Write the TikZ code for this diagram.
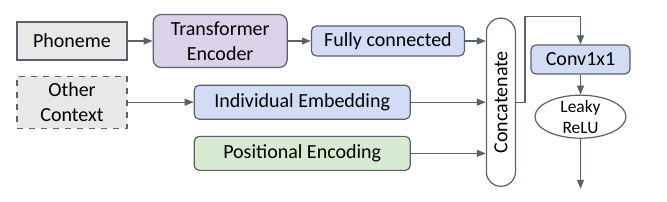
\documentclass[tikz,border=0pt]{standalone}
\usepackage{fontspec}
\setmainfont{Carlito}
\usepackage{graphicx}
\usepackage{tikz}
\usetikzlibrary{positioning}
\usetikzlibrary{shapes.geometric}
\usetikzlibrary{arrows.meta}

\definecolor{edgegrey}{HTML}{5A606C}
\definecolor{inputgrey}{HTML}{E8E8E8}
\definecolor{encpurple}{HTML}{D9D2E9}
\definecolor{layerblue}{HTML}{D2DCF5}
\definecolor{posgreen}{HTML}{D9EAD3}

\begin{document}
\begin{tikzpicture}[x=0.5pt, y=-0.5pt, font=\fontsize{10}{12.5}\selectfont,
    box/.style={draw=edgegrey, line width=0.6pt, inner sep=0pt, align=center},
    layer/.style={box, fill=layerblue, rounded corners=2.5pt, minimum height=15pt},
    arr/.style={draw=edgegrey, line width=0.6pt, -{Triangle[length=4.5pt,width=3.5pt]}}]

    \useasboundingbox (0,0) rectangle (667,202);

    % inputs
    \node [box, fill=inputgrey, minimum width=55pt, minimum height=19pt] (phoneme) at (72,41) {Phoneme};
    \node [box, fill=inputgrey, dashed, minimum width=55pt, minimum height=26pt, below=7.5pt of phoneme] (context) {Other\\Context};

    \node [box, fill=encpurple, rounded corners=4pt, minimum width=67pt, minimum height=26.5pt, right=12.5pt of phoneme] (encoder) {Transformer\\Encoder};
    \node [layer, minimum width=76.5pt, right=11.5pt of encoder] (fc) {Fully connected};
    \node [layer, minimum width=108pt, minimum height=17pt, right=33pt of context] (embed) {Individual Embedding};
    \node [layer, fill=posgreen, minimum width=108pt, minimum height=17pt, below=8pt of embed] (posenc) {Positional Encoding};

    % concat and head
    \node [box, rounded corners=7pt, minimum width=14.5pt, minimum height=84pt, right=37.5pt of embed] (concat) {\rotatebox{90}{Concatenate}};
    \node [layer, minimum width=49.5pt, minimum height=14.5pt] (conv) at (580.5,59.5) {Conv1x1};
    \node [box, ellipse, inner xsep=0pt, inner ysep=-2pt, minimum width=45.5pt, minimum height=21.5pt,
           font=\fontsize{8.7}{10.5}\selectfont, below=10pt of conv] (relu) {Leaky\\ReLU};
    \coordinate [below=25pt of relu] (out);

    \draw [arr] (phoneme) -- (encoder);
    \draw [arr] (encoder) -- (fc);
    \draw [arr] (fc) -- (fc -| concat.west);
    \draw [arr] (context) -- (embed);
    \draw [arr] (embed) -- (embed -| concat.west);
    \draw [arr] (posenc) -- (posenc -| concat.west);
    \draw [arr] (concat.east) -- ++(9,0) |- ([yshift=14pt]conv.north) -- (conv.north);
    \draw [arr] (conv) -- (relu);
    \draw [arr] (relu) -- (out);

\end{tikzpicture}
\end{document}
